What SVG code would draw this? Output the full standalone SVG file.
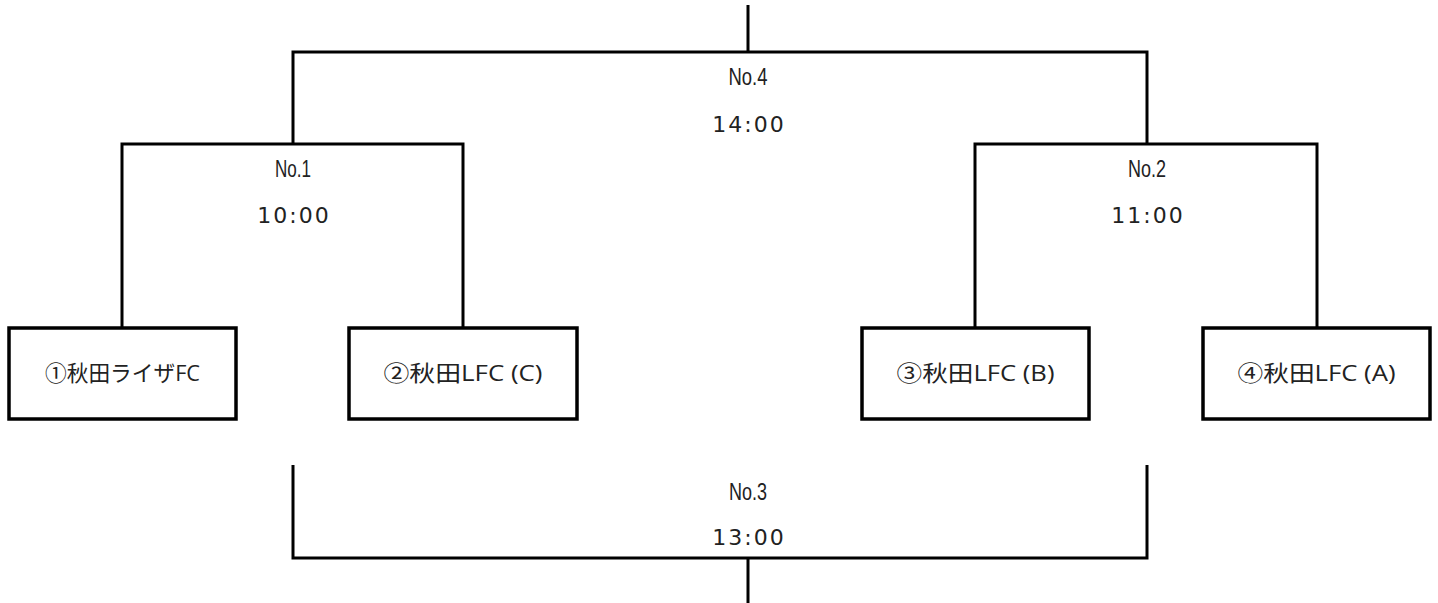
<svg xmlns="http://www.w3.org/2000/svg" width="1438" height="603" viewBox="0 0 1438 603">
<style>
.ln{stroke:#000;stroke-width:3;fill:none;stroke-linecap:butt;stroke-linejoin:miter}
.box{fill:#fff;stroke:#000;stroke-width:3.5}
.team{font-family:"Open Sans","Noto Sans CJK JP",sans-serif;font-size:22px;fill:#222;text-anchor:middle}
.no{font-family:"Liberation Sans","Noto Sans CJK JP",sans-serif;font-size:23px;fill:#222;text-anchor:middle}
.time{font-family:"DejaVu Sans",sans-serif;font-size:22px;fill:#222;text-anchor:middle;letter-spacing:2px}
</style>
<rect width="1438" height="603" fill="#fff"/>
<g id="connectors">
<path class="ln" d="M748,5 V52 M293,145 V52 H1147 V145"/>
<path class="ln" d="M122,328 V144 H463 V328"/>
<path class="ln" d="M975,328 V144 H1317 V328"/>
<path class="ln" d="M293,465 V558 H1147 V465 M748,558 V603"/>
</g>
<g id="match4">
<text class="no" x="748" y="85" textLength="39" lengthAdjust="spacingAndGlyphs">No.4</text>
<text class="time" x="749" y="132">14:00</text>
</g>
<g id="match1">
<text class="no" x="293" y="177" textLength="36" lengthAdjust="spacingAndGlyphs">No.1</text>
<text class="time" x="294" y="223">10:00</text>
</g>
<g id="match2">
<text class="no" x="1147" y="177" textLength="38" lengthAdjust="spacingAndGlyphs">No.2</text>
<text class="time" x="1148" y="223">11:00</text>
</g>
<g id="match3">
<text class="no" x="748" y="500" textLength="38" lengthAdjust="spacingAndGlyphs">No.3</text>
<text class="time" x="749" y="545">13:00</text>
</g>
<g id="team1">
<rect class="box" x="9" y="328" width="227" height="91"/>
<text class="team" x="122.5" y="381" textLength="155" lengthAdjust="spacingAndGlyphs">①秋田ライザFC</text>
</g>
<g id="team2">
<rect class="box" x="349" y="328" width="228" height="91"/>
<text class="team" x="463" y="381" textLength="159" lengthAdjust="spacingAndGlyphs">②秋田LFC (C)</text>
</g>
<g id="team3">
<rect class="box" x="862" y="328" width="227" height="91"/>
<text class="team" x="975.5" y="381" textLength="158" lengthAdjust="spacingAndGlyphs">③秋田LFC (B)</text>
</g>
<g id="team4">
<rect class="box" x="1203" y="328" width="227" height="91"/>
<text class="team" x="1316.5" y="381" textLength="158" lengthAdjust="spacingAndGlyphs">④秋田LFC (A)</text>
</g>
</svg>
